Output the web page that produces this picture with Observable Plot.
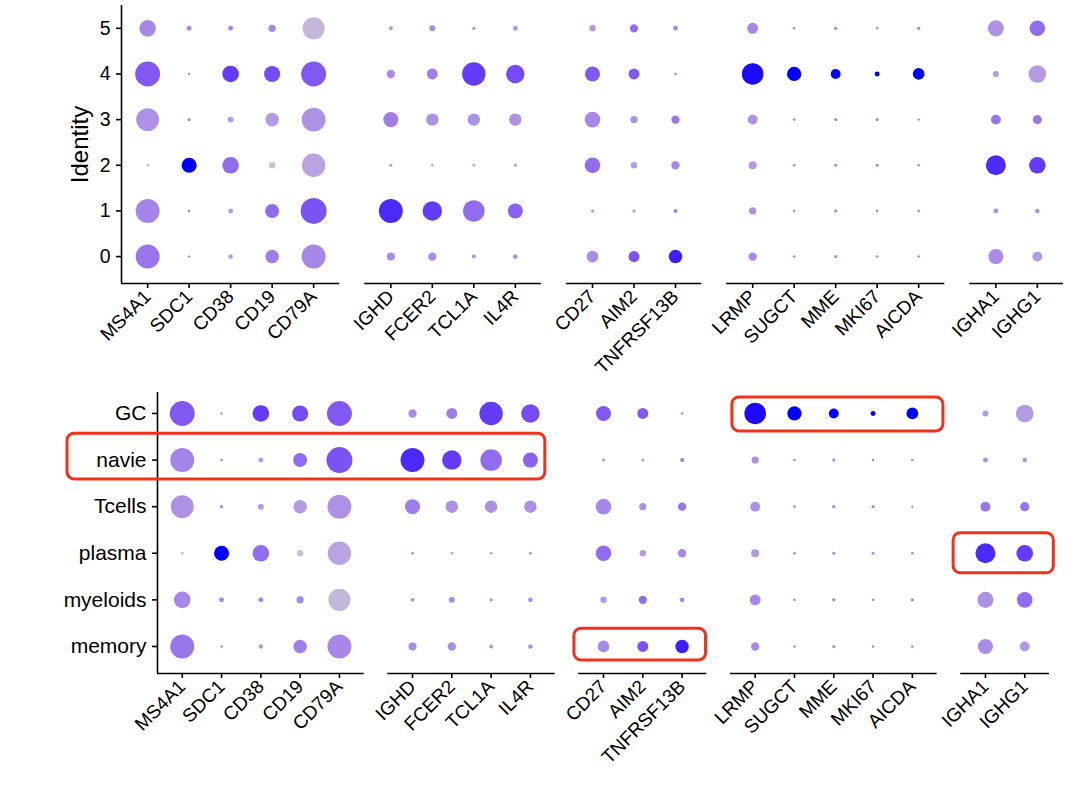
<!DOCTYPE html>
<html>
<head>
<meta charset="utf-8">
<script src="https://cdn.jsdelivr.net/npm/d3@7"></script>
<script src="https://cdn.jsdelivr.net/npm/@observablehq/plot@0.6"></script>
<style>
  body { margin: 0; background: #fff; font-family: "Liberation Sans", Arial, Helvetica, sans-serif; }
  #chart { width: 1080px; }
  #chart svg { display: block; }
</style>
</head>
<body>
<div id="chart"></div>
<script>
// ---------------- DATA ----------------
const geneGroups = [
  ["MS4A1", "SDC1", "CD38", "CD19", "CD79A"],
  ["IGHD", "FCER2", "TCL1A", "IL4R"],
  ["CD27", "AIM2", "TNFRSF13B"],
  ["LRMP", "SUGCT", "MME", "MKI67", "AICDA"],
  ["IGHA1", "IGHG1"]
];
const clusterIds = [0, 1, 2, 3, 4, 5];
// cell type name of each cluster id (index = cluster id)
const cellTypes = ["memory", "navie", "plasma", "Tcells", "GC", "myeloids"];
// order of the lower panel, bottom -> top
const cellTypeOrder = ["memory", "myeloids", "plasma", "Tcells", "navie", "GC"];

// percent expressed, per gene, for clusters 0..5
const pctExpressed = {
  MS4A1:     [92, 92, 12, 88, 96, 64],
  SDC1:      [9, 10, 58, 12, 9, 19],
  CD38:      [17, 19, 64, 23, 64, 19],
  CD19:      [52, 54, 25, 52, 62, 28],
  CD79A:     [92, 100, 90, 92, 96, 85],
  IGHD:      [31, 92, 12, 58, 32, 15],
  FCER2:     [32, 75, 10, 48, 42, 23],
  TCL1A:     [15, 83, 10, 48, 90, 13],
  IL4R:      [18, 58, 12, 48, 71, 18],
  CD27:      [45, 12, 60, 60, 58, 25],
  AIM2:      [42, 12, 25, 28, 42, 32],
  TNFRSF13B: [52, 15, 32, 32, 10, 19],
  LRMP:      [32, 28, 31, 38, 83, 42],
  SUGCT:     [10, 10, 10, 10, 55, 10],
  MME:       [12, 12, 12, 13, 38, 13],
  MKI67:     [10, 10, 12, 12, 19, 10],
  AICDA:     [10, 10, 10, 9, 45, 13],
  IGHA1:     [58, 19, 77, 38, 23, 62],
  IGHG1:     [38, 17, 64, 35, 68, 60]
};
// average expression (scaled 0..1), per gene, for clusters 0..5
const avgExpScaled = {
  MS4A1:     [0.50, 0.42, 0.05, 0.35, 0.65, 0.40],
  SDC1:      [0.40, 0.40, 1.00, 0.40, 0.40, 0.40],
  CD38:      [0.30, 0.30, 0.55, 0.30, 0.80, 0.40],
  CD19:      [0.45, 0.55, 0.10, 0.30, 0.72, 0.40],
  CD79A:     [0.40, 0.68, 0.25, 0.35, 0.65, 0.15],
  IGHD:      [0.38, 0.88, 0.30, 0.45, 0.38, 0.35],
  FCER2:     [0.38, 0.80, 0.30, 0.35, 0.45, 0.38],
  TCL1A:     [0.35, 0.55, 0.30, 0.35, 0.80, 0.35],
  IL4R:      [0.35, 0.60, 0.30, 0.35, 0.72, 0.35],
  CD27:      [0.38, 0.30, 0.55, 0.40, 0.65, 0.30],
  AIM2:      [0.68, 0.30, 0.30, 0.35, 0.65, 0.55],
  TNFRSF13B: [0.92, 0.45, 0.40, 0.50, 0.40, 0.38],
  LRMP:      [0.40, 0.35, 0.32, 0.35, 0.98, 0.40],
  SUGCT:     [0.40, 0.40, 0.40, 0.40, 1.00, 0.40],
  MME:       [0.40, 0.40, 0.40, 0.40, 1.00, 0.40],
  MKI67:     [0.40, 0.40, 0.40, 0.40, 1.00, 0.40],
  AICDA:     [0.40, 0.40, 0.40, 0.40, 1.00, 0.40],
  IGHA1:     [0.38, 0.35, 0.88, 0.50, 0.30, 0.35],
  IGHG1:     [0.30, 0.35, 0.80, 0.50, 0.30, 0.55]
};
// highlighted cells in the lower panel
const highlights = [
  { cellType: "navie",  from: "MS4A1", to: "IL4R" },
  { cellType: "GC",     from: "LRMP",  to: "AICDA" },
  { cellType: "plasma", from: "IGHA1", to: "IGHG1" },
  { cellType: "memory", from: "CD27",  to: "TNFRSF13B" }
];

// ---------------- LAYOUT ----------------
const PAD = 0.63, GAP = 0.6;
const genePos = new Map();
const groupExt = [];
let cursor = -PAD;
for (const g of geneGroups) {
  const start = cursor;
  g.forEach((gene, i) => genePos.set(gene, start + PAD + i));
  const end = start + PAD + (g.length - 1) + PAD;
  groupExt.push({ x1: start, x2: end });
  cursor = end + GAP;
}
const xDomain = [-PAD, groupExt[groupExt.length - 1].x2];
const allGenes = geneGroups.flat();
const posToGene = new Map(allGenes.map(g => [genePos.get(g), g]));

const records = [];
for (const g of allGenes) for (const c of clusterIds)
  records.push({ gene: g, cluster: c, cellType: cellTypes[c], pct: pctExpressed[g][c], exp: avgExpScaled[g][c] });

// box padding (annotation styling), in x-slot / row units
const boxGeom = {
  navie:  { left: null, right: 0.38, center: 0.075, half: 0.49, labelLeft: -2.29 },
  GC:     { left: 0.58, right: 0.79, center: -0.02, half: 0.365 },
  plasma: { left: 0.81, right: 0.74, center: 0.0, half: 0.43 },
  memory: { left: 0.74, right: 0.61, center: 0.04, half: 0.34 }
};

const font = "'Liberation Sans', Arial, Helvetica, sans-serif";

function panel({ yOf, yDomain, yTickFormat, yFontSize, marginLeft, marginRight, marginTop, marginBottom, height, extra = [] }) {
  return Plot.plot({
    width: 1080, height, marginTop, marginBottom, marginLeft, marginRight,
    style: { fontFamily: font, color: "black", background: "white", overflow: "visible" },
    x: { type: "linear", domain: xDomain },
    y: { type: "linear", domain: yDomain },
    r: { type: "linear", domain: [0, 100], range: [0, 13] },
    color: { type: "linear", domain: [0, 1], range: ["lightgrey", "blue"], interpolate: d3.interpolateLab },
    marks: [
      Plot.ruleY(groupExt, { x1: "x1", x2: "x2", y: () => yDomain[0], stroke: "black", strokeWidth: 1.6 }),
      Plot.ruleX([xDomain[0]], { y1: () => yDomain[0], y2: () => yDomain[1], stroke: "black", strokeWidth: 1.6 }),
      Plot.axisX({
        ticks: allGenes.map(g => genePos.get(g)), tickFormat: v => posToGene.get(v),
        tickRotate: -45, tickSize: 5, tickPadding: 5, fontSize: 19, strokeWidth: 1.6, label: null
      }),
      Plot.axisY({
        ticks: [0, 1, 2, 3, 4, 5], tickFormat: yTickFormat,
        tickSize: 5, tickPadding: 6, fontSize: yFontSize, strokeWidth: 1.6, label: null
      }),
      Plot.dot(records, { x: d => genePos.get(d.gene), y: yOf, r: "pct", fill: "exp" }),
      ...extra
    ]
  });
}

// upper panel (cluster identities)
const topDomain = [-0.59, 5.5];
const topPanel = panel({
  yOf: d => d.cluster, yDomain: topDomain, yTickFormat: d => String(d), yFontSize: 19.5,
  marginLeft: 121, marginRight: 17, marginTop: 5, marginBottom: 100, height: 383,
  extra: [
    Plot.text(["Identity"], {
      x: () => xDomain[0], y: () => (topDomain[0] + topDomain[1]) / 2,
      text: d => d, rotate: -90, dx: -41, fontSize: 24, fill: "black"
    })
  ]
});

// lower panel (cell type names)
const botDomain = [-0.58, 5.45];
const rowOf = t => cellTypeOrder.indexOf(t);
const boxes = highlights.map(h => {
  const g = boxGeom[h.cellType];
  const r = rowOf(h.cellType) + g.center;
  return {
    x1: g.left == null ? xDomain[0] + g.labelLeft : genePos.get(h.from) - g.left,
    x2: genePos.get(h.to) + g.right,
    y1: r - g.half, y2: r + g.half
  };
});
const bottomPanel = panel({
  yOf: d => rowOf(d.cellType), yDomain: botDomain, yTickFormat: i => cellTypeOrder[i], yFontSize: 21,
  marginLeft: 157, marginRight: 31, marginTop: 9, marginBottom: 113, height: 403,
  extra: [
    Plot.rect(boxes, { x1: "x1", x2: "x2", y1: "y1", y2: "y2", fill: "none", stroke: "#f2311a", strokeWidth: 3, rx: 7 })
  ]
});

document.getElementById("chart").append(topPanel, bottomPanel);
</script>
</body>
</html>
